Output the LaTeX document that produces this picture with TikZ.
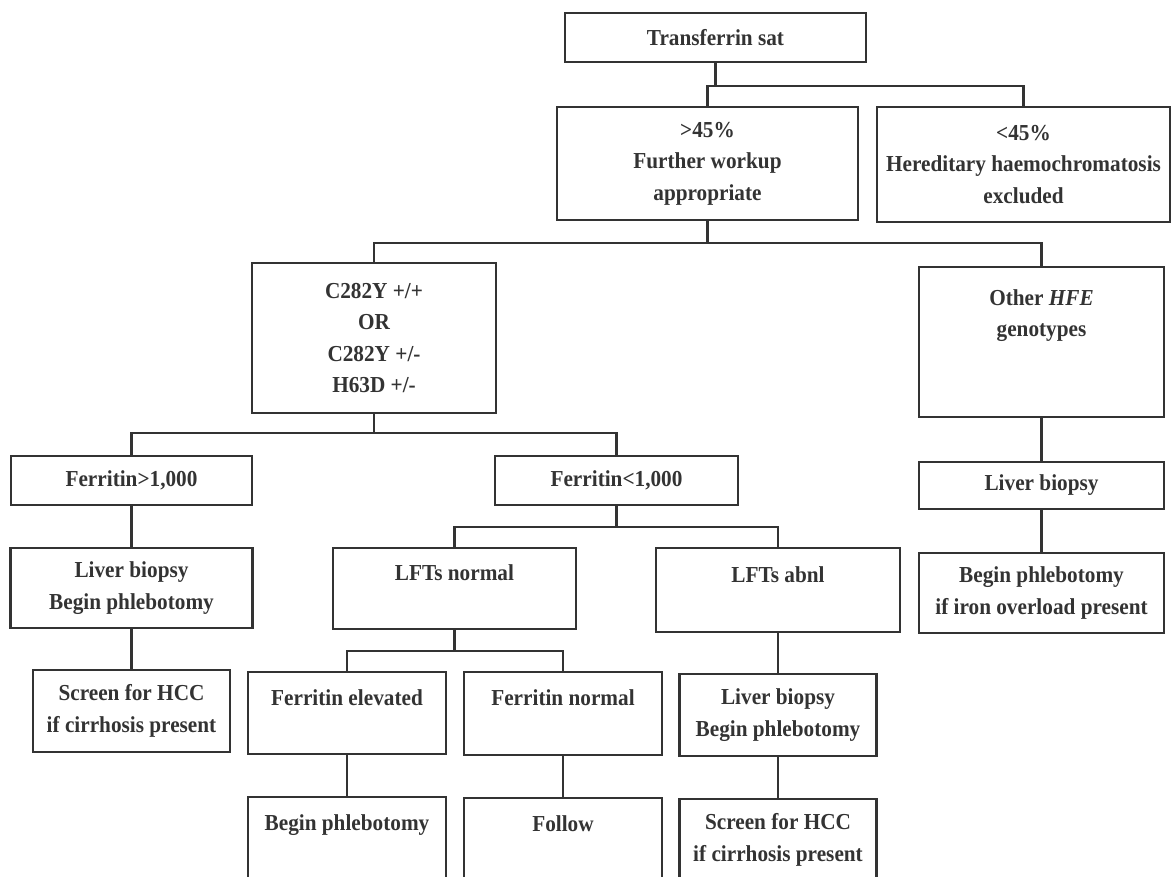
\documentclass[tikz,border=0pt]{standalone}
\usepackage{fontspec}
\setmainfont{Liberation Serif}[FakeStretch=0.93]
\begin{document}
\begin{tikzpicture}[
    x=0.2mm, y=-0.2mm,
    box/.style={draw=black!80, line width=1.3pt, rectangle, align=center, inner sep=1pt, text=black!80, font=\fontsize{13pt}{18pt}\selectfont\bfseries},
    upper/.style={text depth=18pt},
    link/.style={draw=black!80, line width=1.3pt},
]
\useasboundingbox (0,0) rectangle (1174,876);

% Screening
\node[box, minimum width=60.2mm, minimum height=9.8mm] (sat) at (715.5, 37.5) {Transferrin sat};
\node[box, minimum width=60.2mm, minimum height=22.6mm] (high) at (707.5, 163.5) {>45\%\\Further workup\\appropriate};
\node[box, minimum width=58.6mm, minimum height=23mm] (low) at (1023.5, 164.5) {<45\%\\Hereditary haemochromatosis\\excluded};

% Genotypes
\node[box, minimum width=48.8mm, minimum height=30mm] (homo) at (374, 338) {C282Y +/+\\OR\\C282Y +/-\\H63D +/-};
\node[box, minimum width=49mm, minimum height=30mm, text depth=33pt] (other) at (1041.5, 342) {Other \textit{HFE}\\genotypes};

% Ferritin
\node[box, minimum width=48.2mm, minimum height=9.8mm] (ferhigh) at (131.5, 480.5) {Ferritin>1,000};
\node[box, minimum width=48.6mm, minimum height=9.8mm] (ferlow) at (616.5, 480.5) {Ferritin<1,000};
\node[box, minimum width=49mm, minimum height=9.4mm] (biopsyR) at (1041.5, 485.5) {Liver biopsy};

% LFTs
\node[box, minimum width=48.4mm, minimum height=16mm] (biopsyL) at (131.5, 588) {Liver biopsy\\Begin phlebotomy};
\node[box, upper, minimum width=48.6mm, minimum height=16.2mm] (lftnorm) at (454.5, 588.5) {LFTs normal};
\node[box, upper, minimum width=48.8mm, minimum height=16.8mm] (lftabnl) at (778, 590) {LFTs abnl};
\node[box, minimum width=49mm, minimum height=16mm] (phlebR) at (1041.5, 593) {Begin phlebotomy\\if iron overload present};

% Third row
\node[box, minimum width=39.4mm, minimum height=16.4mm] (hccL) at (131.5, 711) {Screen for HCC\\if cirrhosis present};
\node[box, upper, minimum width=39.6mm, minimum height=16.4mm] (ferelev) at (347, 713) {Ferritin elevated};
\node[box, upper, minimum width=39.6mm, minimum height=16.6mm] (fernorm) at (563, 713.5) {Ferritin normal};
\node[box, minimum width=39.4mm, minimum height=16.4mm] (biopsyM) at (778, 715) {Liver biopsy\\Begin phlebotomy};

% Bottom row
\node[box, upper, minimum width=39.6mm, minimum height=16.4mm] (phlebM) at (347, 838) {Begin phlebotomy};
\node[box, upper, minimum width=39.6mm, minimum height=16.4mm] (follow) at (563, 839) {Follow};
\node[box, minimum width=39.4mm, minimum height=16.4mm] (hccR) at (778, 840) {Screen for HCC\\if cirrhosis present};

% Junctions
\coordinate (j1) at (715.5, 86);
\coordinate (j2) at (707.5, 243);
\coordinate (j3) at (374, 433);
\coordinate (j4) at (616.5, 527);
\coordinate (j5) at (454.5, 651);

% Connectors
\draw[link] (sat.south) -- (j1);
\draw[link] (high.north) |- (j1) -| (low.north);
\draw[link] (high.south) -- (j2);
\draw[link] (homo.north) |- (j2) -| (other.north);
\draw[link] (homo.south) -- (j3);
\draw[link] (ferhigh.north) |- (j3) -| (ferlow.north);
\draw[link] (ferlow.south) -- (j4);
\draw[link] (lftnorm.north) |- (j4) -| (lftabnl.north);
\draw[link] (lftnorm.south) -- (j5);
\draw[link] (ferelev.north) |- (j5) -| (fernorm.north);
\draw[link] (ferhigh) -- (biopsyL);
\draw[link] (biopsyL) -- (hccL);
\draw[link] (other) -- (biopsyR);
\draw[link] (biopsyR) -- (phlebR);
\draw[link] (lftabnl) -- (biopsyM);
\draw[link] (biopsyM) -- (hccR);
\draw[link] (ferelev) -- (phlebM);
\draw[link] (fernorm) -- (follow);

\end{tikzpicture}
\end{document}
